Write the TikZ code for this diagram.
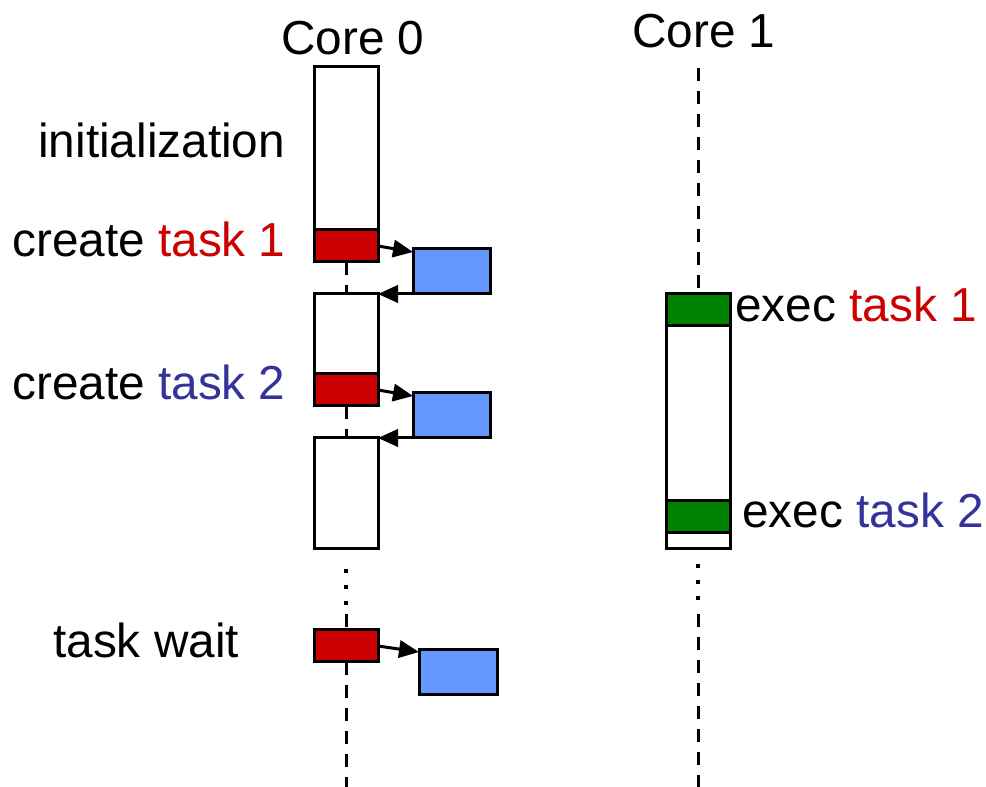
\documentclass[tikz,border=0pt]{standalone}
\usepackage{fontspec}
\setmainfont{Liberation Sans}
\usetikzlibrary{arrows.meta,calc}
\definecolor{taskred}{HTML}{CC0000}
\definecolor{taskblue}{HTML}{333399}
\definecolor{blockblue}{HTML}{6699FF}
\definecolor{blockgreen}{HTML}{008000}
\begin{document}
\begin{tikzpicture}[x=0.75pt,y=-0.75pt,
  blk/.style={draw=black,line width=2.25pt,inner sep=0pt,outer sep=0pt,anchor=north west},
  lbl/.style={inner sep=0pt,anchor=base west,font=\fontsize{35.8}{42}\selectfont},
  tl/.style={line width=2.25pt,dash pattern=on 9.75pt off 7.5pt},
  dotl/.style={line width=3pt,dash pattern=on 3pt off 9pt},
  arr/.style={line width=2.25pt,-{Triangle[length=15pt,width=13pt]}}]
\useasboundingbox (0,0) rectangle (986,787);
% labels
\node[lbl] (c0) at (281,55) {Core 0};
\node[lbl] (c1) at (632,48) {Core 1};
\node[lbl] (init) at (38,158) {initialization};
\node[lbl] (ct1) at (12,257) {create \textcolor{taskred}{task 1}};
\node[lbl] (ct2) at (12,400) {create \textcolor{taskblue}{task 2}};
\node[lbl] (tw) at (53,658) {task wait};
\node[lbl] (et1) at (735,322) {exec \textcolor{taskred}{task 1}};
\node[lbl] (et2) at (742,528) {exec \textcolor{taskblue}{task 2}};
% core 0 timeline
\node[blk,fill=white,minimum width=48pt,minimum height=123pt] (w1) at (314,67) {};
\node[blk,fill=taskred,minimum width=48pt,minimum height=24pt] (r1) at (314,230) {};
\node[blk,fill=white,minimum width=48pt,minimum height=60pt] (w2) at (314,294) {};
\node[blk,fill=taskred,minimum width=48pt,minimum height=24pt] (r2) at (314,374) {};
\node[blk,fill=white,minimum width=48pt,minimum height=83.25pt] (w3) at (314,438) {};
\node[blk,fill=taskred,minimum width=48pt,minimum height=24pt] (r3) at (314,630) {};
\node[blk,fill=blockblue,minimum width=57.75pt,minimum height=33.75pt] (b1) at (413,249) {};
\node[blk,fill=blockblue,minimum width=57.75pt,minimum height=33.75pt] (b2) at (413,393) {};
\node[blk,fill=blockblue,minimum width=58.5pt,minimum height=33.75pt] (b3) at (419,650) {};
\coordinate (d0a) at (346,569);
\coordinate (d0b) at (346,606);
\coordinate (d0c) at (346,614);
\coordinate (e0) at (346,787);
\draw[tl] (r1.south) -- (w2.north);
\draw[tl] (r2.south) -- (w3.north);
\draw[dotl] (d0a) -- (d0b);
\draw[tl] (d0c) -- (r3.north);
\draw[tl] (r3.south) -- (e0);
\draw[arr] (r1.east) -- ($(b1.north west)+(0,3)$);
\draw[arr] (b1.south west) -- (w2.north east);
\draw[arr] (r2.east) -- ($(b2.north west)+(0,3)$);
\draw[arr] (b2.south west) -- (w3.north east);
\draw[arr] (r3.east) -- ($(b3.north west)+(0,2)$);
% core 1 timeline
\coordinate (t1) at (698,68);
\node[blk,fill=white,minimum width=48pt,minimum height=191.25pt] (w4) at (666,294) {};
\node[blk,fill=blockgreen,minimum width=48pt,minimum height=24pt] (g1) at (666,294) {};
\node[blk,fill=blockgreen,minimum width=48pt,minimum height=24pt] (g2) at (666,501) {};
\coordinate (d1a) at (698,564);
\coordinate (d1b) at (698,601);
\coordinate (d1c) at (698,614);
\coordinate (e1) at (698,787);
\draw[tl] (t1) -- (g1.north);
\draw[dotl] (d1a) -- (d1b);
\draw[tl] (d1c) -- (e1);
\end{tikzpicture}
\end{document}
